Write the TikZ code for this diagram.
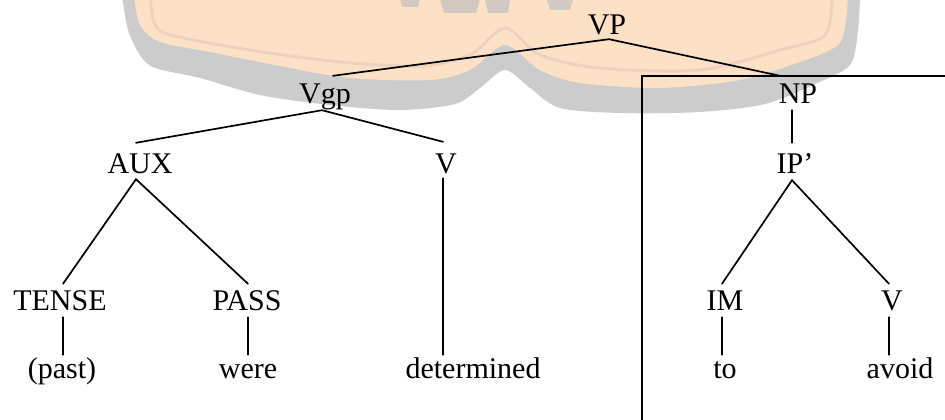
\documentclass[tikz,border=0pt]{standalone}
\usepackage{fontspec}
\setmainfont{Liberation Serif}
\definecolor{wmpeach}{HTML}{FDE1C6}
\definecolor{wmgray}{HTML}{CCCCCC}
\definecolor{wmline}{HTML}{EBD3C0}
\definecolor{wmletter}{HTML}{D2CAC2}
\begin{document}
\begin{tikzpicture}[x=1pt,y=-1pt,
  lab/.style={inner sep=0pt, anchor=base, text height=28pt, text depth=7pt,
              font=\fontsize{30}{36}\selectfont},
  leaf/.style={lab, text height=23pt},
  edge/.style={line width=1.7pt, line cap=round},
  frameline/.style={line width=1.5pt}]
\useasboundingbox (0,0) rectangle (945,420);
\clip (0,0) rectangle (945,420);
% watermark (faded logo)
\fill[wmgray] plot[smooth] coordinates {(122,-5) (128,30) (140,55) (155,68) (200,78) (260,95) (330,105) (400,110) (455,104) (480,88) (505,70) (530,88) (560,108) (620,113) (700,112) (765,104) (815,84) (850,65) (858,30) (860,-5)} -- cycle;
\fill[wmpeach] plot[smooth] coordinates {(134,-5) (140,25) (160,42) (210,52) (280,66) (350,78) (430,80) (470,70) (505,45) (540,70) (580,83) (660,88) (740,80) (800,62) (838,45) (846,20) (848,-5)} -- cycle;
\draw[wmline, line width=3pt] plot[smooth] coordinates {(150,-5) (155,25) (175,36) (250,50) (340,62) (420,66) (470,55) (505,28) (540,55) (600,68) (700,70) (780,50) (825,35) (832,-5)};
\fill[wmletter] (400,-1) -- (420,-1) -- (418,7) -- (402,7) -- cycle;
\fill[wmletter] (440,-1) -- (480,-1) -- (476,13) -- (444,13) -- cycle;
\fill[wmletter] (485,-1) -- (510,-1) -- (508,13) -- (488,13) -- cycle;
\fill[wmletter] (547,-1) -- (573,-1) -- (570,10) -- (550,10) -- cycle;
% nodes
\node[lab] (VP)    at (607,35)  {VP};
\node[lab] (Vgp)   at (325,103) {Vgp};
\node[lab] (NP)    at (798,103) {NP};
\node[lab] (AUX)   at (140,173) {AUX};
\node[lab] (V1)    at (446,173) {V};
\node[lab] (IP)    at (795,173) {IP’};
\node[lab] (TENSE) at (60,310)  {TENSE};
\node[lab] (PASS)  at (247,310) {PASS};
\node[lab] (IM)    at (725,310) {IM};
\node[lab] (V2)    at (892,310) {V};
\node[leaf] (past)  at (62,378)  {(past)};
\node[leaf] (were)  at (248,378) {were};
\node[leaf] (det)   at (473,378) {determined};
\node[leaf] (to)    at (725,378) {to};
\node[leaf] (avoid) at (900,378) {avoid};
% frame
\draw[frameline] (642,76) rectangle (960,440);
% edges
\draw[edge] ([xshift=8pt,yshift=-1pt]Vgp.north) -- ([xshift=2pt,yshift=3pt]VP.south) -- ([xshift=-18pt,yshift=-1pt]NP.north);
\draw[edge] ([xshift=-4pt,yshift=2pt]AUX.north) -- ([xshift=-3pt]Vgp.south) -- ([xshift=-3pt,yshift=3pt]V1.north);
\draw[edge] ([xshift=3pt,yshift=-2pt]TENSE.north) -- ([xshift=-4pt,yshift=1pt]AUX.south) -- ([xshift=1pt,yshift=-2pt]PASS.north);
\draw[edge] ([xshift=3pt]TENSE.south) -- ([xshift=3pt]TENSE.south |- past.north);
\draw[edge] ([xshift=1pt]PASS.south) -- ([xshift=1pt]PASS.south |- were.north);
\draw[edge] ([xshift=-3pt,yshift=2pt]V1.south) -- ([xshift=-3pt]V1.south |- det.north);
\draw[edge] ([xshift=-6pt]NP.south) -- ([xshift=-3pt,yshift=2pt]IP.north);
\draw[edge] ([xshift=-3pt,yshift=-2pt]IM.north) -- ([xshift=-3pt]IP.south) -- ([xshift=-3pt,yshift=-2pt]V2.north);
\draw[edge] ([xshift=-3pt]IM.south) -- ([xshift=-3pt]IM.south |- to.north);
\draw[edge] ([xshift=-3pt]V2.south) -- ([xshift=-3pt]V2.south |- avoid.north);
\end{tikzpicture}
\end{document}
